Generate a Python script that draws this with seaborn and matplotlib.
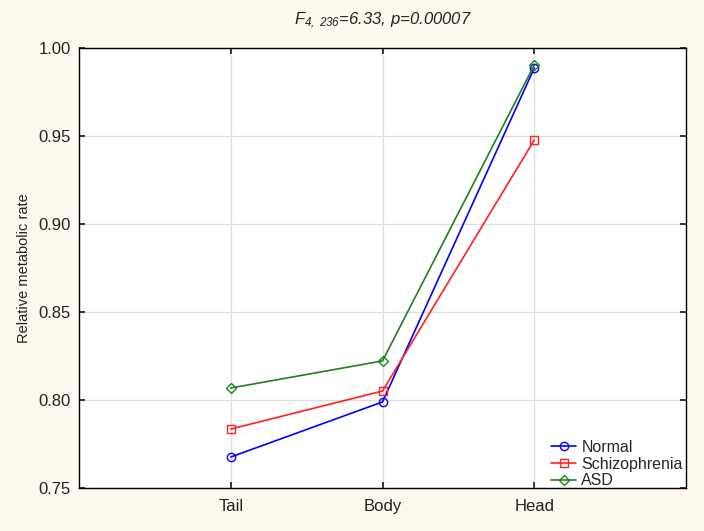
import matplotlib
matplotlib.use("Agg")
import matplotlib.pyplot as plt
import seaborn as sns
import pandas as pd

regions = ["Tail", "Body", "Head"]
groups = ["Normal", "Schizophrenia", "ASD"]
normal = [0.7676, 0.7989, 0.9886]
schizophrenia = [0.7835, 0.8051, 0.9477]
asd = [0.8068, 0.8222, 0.9903]
yticks = [0.75, 0.80, 0.85, 0.90, 0.95, 1.00]

sns.set_theme(style="white")
plt.rcParams['font.family'] = ['Liberation Sans', 'DejaVu Sans']
plt.rcParams['mathtext.fontset'] = 'custom'
plt.rcParams['mathtext.it'] = 'Liberation Sans:italic'
plt.rcParams['mathtext.rm'] = 'Liberation Sans:italic'
plt.rcParams['mathtext.default'] = 'it'

rows = []
for g, vals in zip(groups, [normal, schizophrenia, asd]):
    for r, v in zip(regions, vals):
        rows.append({"Region": r, "Group": g, "Rate": v})
df = pd.DataFrame(rows)

bg = "#FDF9EE"
fig = plt.figure(figsize=(7.04, 5.31), dpi=100, facecolor=bg)
ax = fig.add_axes([79/704, 1-488/531, (686-79)/704, (488-48)/531])
ax.set_facecolor("white")

palette = {"Normal": "#0000FF", "Schizophrenia": "#FF2020", "ASD": "#208020"}
markers = {"Normal": "o", "Schizophrenia": "s", "ASD": "D"}
for g in groups:
    sub = df[df.Group == g]
    sns.lineplot(data=sub, x="Region", y="Rate", ax=ax, color=palette[g],
                 marker=markers[g], markersize=6 if markers[g] != "D" else 5,
                 markerfacecolor="none", markeredgecolor=palette[g],
                 markeredgewidth=1.0, linewidth=1.2, label=g, sort=False)

ax.set_xlim(-1, 3)
ax.set_ylim(0.75, 1.0)
ax.set_yticks(yticks)
ax.set_yticklabels([f"{t:.2f}" for t in yticks])
ax.set_xticks([0, 1, 2])
ax.set_xticklabels(regions)
ax.set_xlabel("")
ax.set_ylabel("Relative metabolic rate", fontsize=10.5, color="#222222", labelpad=5)
ax.grid(True, color="#DDDDDD", linewidth=0.9)
ax.tick_params(direction="in", length=4, top=True, right=True, bottom=True, left=True,
               labelsize=12, colors="#222222", pad=6)
ax.tick_params(axis="x", pad=8)
for s in ax.spines.values():
    s.set_color("black")
    s.set_linewidth(1.0)

ax.set_title(r"$F_{4,\ 236}$=6.33, p=0.00007", fontsize=12, style="italic",
             color="#222222", pad=17)
leg = ax.legend(loc="lower right", bbox_to_anchor=(1.005, -0.015), frameon=False,
                fontsize=11.5, handlelength=1.6, handletextpad=0.3,
                labelspacing=0.1, borderaxespad=0.0)

fig.savefig("out.png", dpi=100, facecolor=bg)
